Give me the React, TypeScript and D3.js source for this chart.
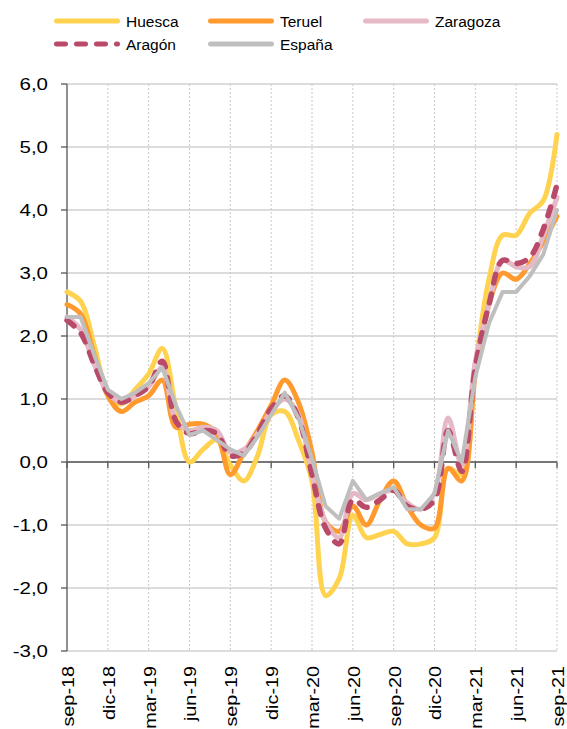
import React from "react";
import * as d3 from "d3";

const months = ["sep-18","oct-18","nov-18","dic-18","ene-19","feb-19","mar-19","abr-19","may-19","jun-19","jul-19","ago-19","sep-19","oct-19","nov-19","dic-19","ene-20","feb-20","mar-20","abr-20","may-20","jun-20","jul-20","ago-20","sep-20","oct-20","nov-20","dic-20","ene-21","feb-21","mar-21","abr-21","may-21","jun-21","jul-21","ago-21","sep-21"];

const huesca = [2.7, 2.55, 1.85, 1.1, 0.92, 1.15, 1.4, 1.8, 0.85, 0.0, 0.2, 0.35, -0.05, -0.3, 0.1, 0.75, 0.8, 0.35, -0.3, -2.12, -1.85, -0.85, -1.2, -1.15, -1.1, -1.3, -1.3, -1.2, -0.1, -0.2, 1.5, 2.9, 3.6, 3.6, 3.95, 4.15, 5.2];
const teruel = [2.5, 2.35, 1.7, 1.05, 0.8, 0.95, 1.05, 1.3, 0.55, 0.6, 0.6, 0.45, -0.2, 0.15, 0.5, 0.9, 1.3, 0.95, 0.15, -0.95, -1.1, -0.7, -1.0, -0.6, -0.3, -0.7, -1.0, -1.05, -0.1, -0.3, 1.4, 2.5, 3.0, 2.9, 3.15, 3.5, 3.9];
const zaragoza = [2.3, 2.1, 1.55, 1.1, 0.95, 1.05, 1.2, 1.5, 0.65, 0.5, 0.55, 0.5, 0.15, 0.2, 0.45, 0.8, 1.0, 0.75, -0.2, -0.95, -1.2, -0.5, -0.6, -0.5, -0.45, -0.65, -0.75, -0.5, 0.7, -0.05, 1.6, 2.5, 3.2, 3.1, 3.1, 3.6, 4.2];
const aragon = [2.25, 2.05, 1.55, 1.1, 0.95, 1.05, 1.2, 1.6, 0.65, 0.45, 0.5, 0.45, 0.1, 0.15, 0.45, 0.85, 1.05, 0.7, -0.2, -1.05, -1.3, -0.6, -0.72, -0.6, -0.45, -0.7, -0.75, -0.6, 0.5, -0.15, 1.5, 2.5, 3.2, 3.15, 3.25, 3.7, 4.4];
const espana = [2.3, 2.3, 1.7, 1.15, 1.0, 1.1, 1.25, 1.5, 0.9, 0.43, 0.5, 0.35, 0.2, 0.1, 0.4, 0.75, 1.1, 0.7, 0.05, -0.7, -0.9, -0.3, -0.6, -0.5, -0.4, -0.75, -0.75, -0.5, 0.5, 0.0, 1.35, 2.2, 2.7, 2.7, 2.95, 3.3, 4.0];

const yTicks = [-3, -2, -1, 0, 1, 2, 3, 4, 5, 6];

const seriesDefs = [
  { name: "Huesca", values: huesca, color: "#FFD34F", dash: null, smooth: true, width: 5 },
  { name: "Teruel", values: teruel, color: "#FF9A2E", dash: null, smooth: true, width: 5 },
  { name: "Zaragoza", values: zaragoza, color: "#E6B9C6", dash: null, smooth: true, width: 5 },
  { name: "Aragón", values: aragon, color: "#B94A6A", dash: "9,11", smooth: true, width: 5.5 },
  { name: "España", values: espana, color: "#BFBFBF", dash: null, smooth: false, width: 4 },
];

const W = 567, H = 729;
const left = 67, right = 557, top = 84, bottom = 651;

export default function App() {
  const x = d3.scaleLinear().domain([0, months.length - 1]).range([left, right]);
  const y = d3.scaleLinear().domain([-3, 6]).range([bottom, top]);
  const font = "Arial, 'Liberation Sans', Helvetica, sans-serif";
  const tickIdx = months.map((_, i) => i).filter((i) => i % 3 === 0);

  const legendItems = [
    { s: seriesDefs[0], lx: 55, ly: 21 },
    { s: seriesDefs[1], lx: 209, ly: 21 },
    { s: seriesDefs[2], lx: 364, ly: 21 },
    { s: seriesDefs[3], lx: 55, ly: 44 },
    { s: seriesDefs[4], lx: 209, ly: 44 },
  ];

  return (
    <svg width={W} height={H} style={{ position: "absolute", left: 0, top: 0, background: "#fff" }} fontFamily={font}>
      {yTicks.map((t) => (
        <line key={"h" + t} x1={left} x2={right} y1={y(t)} y2={y(t)} stroke="#D0D0D0" strokeWidth={1.3} />
      ))}
      {tickIdx.filter((i) => i > 0).map((i) => (
        <line key={"v" + i} x1={x(i)} x2={x(i)} y1={top} y2={bottom} stroke="#C8C8C8" strokeWidth={1} strokeDasharray="2,2" />
      ))}
      <line x1={left} x2={right} y1={y(0)} y2={y(0)} stroke="#555" strokeWidth={1.3} />
      {tickIdx.map((i) => (
        <line key={"xt" + i} x1={x(i)} x2={x(i)} y1={y(0)} y2={y(0) + 6} stroke="#555" strokeWidth={1.3} />
      ))}
      <line x1={left} x2={left} y1={top} y2={bottom} stroke="#555" strokeWidth={1.3} />
      {yTicks.map((t) => (
        <g key={"yt" + t}>
          <line x1={left - 6} x2={left} y1={y(t)} y2={y(t)} stroke="#555" strokeWidth={1.3} />
          <text transform={`translate(48,${y(t)}) scale(1.28,1)`} dy="0.36em" textAnchor="end" fontSize={16} fill="#000">
            {d3.format(".1f")(t).replace(".", ",").replace("−", "-")}
          </text>
        </g>
      ))}
      {tickIdx.map((i) => (
        <text key={"xl" + i} transform={`translate(${x(i) + 1},${666}) rotate(-90) scale(1.2,1)`} textAnchor="end" dy="0.36em" fontSize={16.5} fill="#000">
          {months[i]}
        </text>
      ))}
      {seriesDefs.map((s) => {
        const gen = d3
          .line<number>()
          .x((_, i) => x(i))
          .y((d) => y(d))
          .curve(s.smooth ? d3.curveCatmullRom.alpha(0.5) : d3.curveLinear);
        return (
          <path
            key={s.name}
            d={gen(s.values) || ""}
            fill="none"
            stroke={s.color}
            strokeWidth={s.width}
            strokeDasharray={s.dash || undefined}
            strokeLinecap="round"
            strokeLinejoin="round"
          />
        );
      })}
      {legendItems.map(({ s, lx, ly }) => (
        <g key={"lg" + s.name}>
          <line x1={lx + 1.5} x2={lx + 62.5} y1={ly} y2={ly} stroke={s.color} strokeWidth={5} strokeLinecap="round" strokeDasharray={s.dash || undefined} />
          <text x={lx + 71} y={ly} dy="0.36em" fontSize={15.5} fill="#000">{s.name}</text>
        </g>
      ))}
    </svg>
  );
}
